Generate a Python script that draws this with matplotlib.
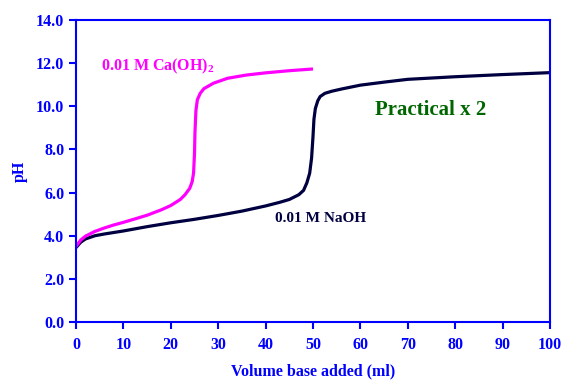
import matplotlib.pyplot as plt

# titration curves
naoh_vol = [0, 1, 2, 4, 6, 8, 10, 15, 20, 25, 30, 35, 40, 43, 45, 47, 48, 48.7, 49.3, 49.7,
            50, 50.2, 50.5, 51, 51.5, 52.5, 54, 56, 60, 65, 70, 80, 90, 100]
naoh_ph = [3.45, 3.7, 3.85, 4.0, 4.08, 4.15, 4.22, 4.42, 4.6, 4.76, 4.94, 5.14, 5.38, 5.55,
           5.68, 5.9, 6.1, 6.45, 6.9, 7.6, 8.6, 9.4, 9.9, 10.25, 10.45, 10.6, 10.7, 10.8,
           10.98, 11.12, 11.25, 11.37, 11.47, 11.56]

caoh_vol = [0, 1, 2, 4, 6, 8, 10, 12, 15, 18, 20, 22, 23, 24, 24.5, 24.8, 25, 25.1, 25.3,
            25.6, 26.2, 27, 29, 32, 36, 40, 45, 50]
caoh_ph = [3.5, 3.8, 3.98, 4.2, 4.36, 4.5, 4.62, 4.75, 4.95, 5.2, 5.4, 5.68, 5.9, 6.2, 6.5,
           6.9, 7.8, 8.8, 9.8, 10.3, 10.6, 10.82, 11.07, 11.3, 11.45, 11.55, 11.65, 11.73]

x_ticks = list(range(0, 101, 10))
y_ticks = [0, 2, 4, 6, 8, 10, 12, 14]

blue = '#0000ff'
plt.rcParams['font.family'] = ['Liberation Serif', 'DejaVu Serif']
plt.rcParams['font.weight'] = 'bold'
plt.rcParams['mathtext.fontset'] = 'custom'
plt.rcParams['mathtext.rm'] = 'Liberation Serif:bold'
plt.rcParams['mathtext.bf'] = 'Liberation Serif:bold'

fig = plt.figure(figsize=(5.74, 3.89), dpi=100)
ax = fig.add_axes([76 / 574, 1 - 322 / 389, 474 / 574, 302 / 389])

ax.plot(naoh_vol, naoh_ph, color='#000040', lw=2.3, solid_capstyle='butt')
ax.plot(caoh_vol, caoh_ph, color='#ff00ff', lw=2.3, solid_capstyle='butt')

ax.set_xlim(0, 100)
ax.set_ylim(0, 14)
ax.set_xticks(x_ticks)
ax.set_yticks(y_ticks)
ax.set_yticklabels([f'{v:.1f}' for v in y_ticks])
for s in ax.spines.values():
    s.set_color(blue)
    s.set_linewidth(1.5)
ax.tick_params(colors=blue, labelcolor=blue, labelsize=11.5, width=1.5, length=5)
ax.tick_params(axis='x', pad=6)
for lab in ax.get_xticklabels() + ax.get_yticklabels():
    lab.set_fontweight('bold')

ax.set_xlabel('Volume base added (ml)', color=blue, fontsize=11.5, fontweight='bold')
ax.set_ylabel('pH', color=blue, fontsize=11.5, fontweight='bold')
ax.xaxis.set_label_coords(0.5, -(363 - 322) / 302)
ax.yaxis.set_label_coords(-(76 - 28) / 474, 0.5)

ax.text(5.3, 11.85, r'0.01 M Ca(OH)$_{\mathrm{2}}$', color='#ff00ff', fontsize=11.5,
        fontweight='bold', va='center')
ax.text(63, 9.85, 'Practical x 2', color='#006600', fontsize=15, fontweight='bold', va='center')
ax.text(42, 4.8, '0.01 M NaOH', color='#000040', fontsize=11, fontweight='bold', va='center')

fig.savefig('out.png', dpi=100)
